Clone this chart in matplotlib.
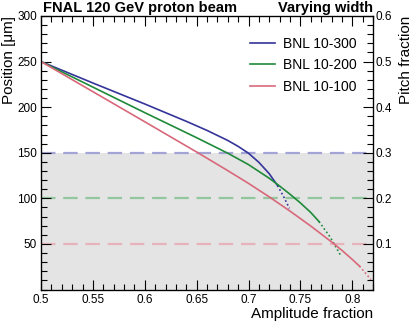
import matplotlib
matplotlib.use("Agg")
import matplotlib.pyplot as plt
from matplotlib.ticker import MultipleLocator

plt.rcParams['font.family'] = ['Liberation Sans', 'DejaVu Sans']

# Data
labels = ["BNL 10-300", "BNL 10-200", "BNL 10-100"]
colors = ["#34349a", "#1f8a3a", "#d8687a"]
dash_colors = ["#a3a3d6", "#92c69c", "#e6b3bd"]
threshold_positions = [150, 100, 50]

blue_x = [0.50, 0.55, 0.60, 0.62, 0.64, 0.66, 0.68, 0.69, 0.70, 0.71, 0.72, 0.728]
blue_y = [250, 226.5, 203.5, 194, 184.5, 174.5, 163.5, 157, 149.5, 139.5, 127, 114]
blue_dot_x = [0.728, 0.734, 0.7394]
blue_dot_y = [114, 101.5, 89]

green_x = [0.50, 0.55, 0.60, 0.65, 0.68, 0.70, 0.72, 0.73, 0.74, 0.75, 0.76, 0.768]
green_y = [250, 222, 194, 166.5, 149.5, 137, 122, 113.5, 104.5, 95, 84.5, 74.5]
green_dot_x = [0.768, 0.779, 0.789]
green_dot_y = [74.5, 57, 37]

red_x = [0.50, 0.55, 0.60, 0.65, 0.68, 0.70, 0.72, 0.74, 0.76, 0.78, 0.79, 0.80, 0.807]
red_y = [250, 217, 184, 150.8, 130.4, 116.4, 101.6, 86, 69.6, 52.2, 43, 33, 25.6]
red_dot_x = [0.807, 0.818]
red_dot_y = [25.6, 11]

solid = [(blue_x, blue_y), (green_x, green_y), (red_x, red_y)]
dotted = [(blue_dot_x, blue_dot_y), (green_dot_x, green_dot_y), (red_dot_x, red_dot_y)]

fig = plt.figure(figsize=(4.15, 3.22), dpi=100)
ax = fig.add_axes([41/415, 1 - 289.5/322, 332/415, (289.5-16)/322])

ax.axhspan(0, 150, color="#e4e4e4", zorder=0, lw=0)
for yv, c in zip(threshold_positions, dash_colors):
    ax.axhline(yv, color=c, lw=1.6, dashes=(6.5, 3.5), zorder=1)

for (x, y), (dx, dy), c, lab in zip(solid, dotted, colors, labels):
    ax.plot(x, y, color=c, lw=1.2, label=lab, zorder=3)
    ax.plot(dx, dy, color=c, lw=1.2, ls=(0, (1, 1.5)), zorder=3)

ax.set_xlim(0.5, 0.82)
ax.set_ylim(0, 300)
ax.xaxis.set_minor_locator(MultipleLocator(0.01))
ax.yaxis.set_minor_locator(MultipleLocator(10))
ax.set_xticks([0.5, 0.55, 0.6, 0.65, 0.7, 0.75, 0.8])
ax.set_xticklabels(["0.5", "0.55", "0.6", "0.65", "0.7", "0.75", "0.8"])
ax.set_yticks([50, 100, 150, 200, 250, 300])
ax.tick_params(which="both", direction="in", top=True, right=False, labelsize=8.5, pad=3)
ax.tick_params(which="major", length=7, width=0.8)
ax.tick_params(which="minor", length=4, width=0.8)

ax2 = ax.twinx()
ax2.set_ylim(0, 0.6)
ax2.set_yticks([0.1, 0.2, 0.3, 0.4, 0.5, 0.6])
ax2.set_yticklabels(["0.1", "0.2", "0.3", "0.4", "0.5", "0.6"])
ax2.yaxis.set_minor_locator(MultipleLocator(0.02))
ax2.tick_params(which="both", direction="in", labelsize=8.5, pad=2)
ax2.tick_params(which="major", length=7, width=0.8)
ax2.tick_params(which="minor", length=4, width=0.8)

ax.set_xlabel("Amplitude fraction", fontsize=11, loc="right", labelpad=1)
ax.set_ylabel("Position [\u03bcm]", fontsize=11, loc="top", labelpad=1)
ax2.set_ylabel("Pitch fraction", fontsize=11, loc="top", labelpad=5)

ax.text(0.005, 1.005, "FNAL 120 GeV proton beam", transform=ax.transAxes,
        ha="left", va="bottom", fontsize=10.5, fontweight="bold")
ax.text(1.0, 1.005, "Varying width", transform=ax.transAxes,
        ha="right", va="bottom", fontsize=10.5, fontweight="bold")

ax.legend(loc="upper right", frameon=False, fontsize=10, handlelength=1.8,
          handletextpad=0.6, labelspacing=0.55, bbox_to_anchor=(0.99, 0.97))

for sp in ax.spines.values():
    sp.set_linewidth(0.9)

fig.savefig("out.png", dpi=100)
